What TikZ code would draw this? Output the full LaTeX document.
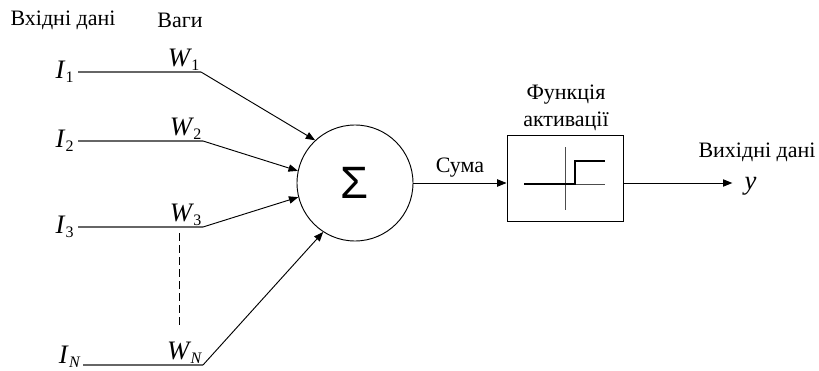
\documentclass[tikz,border=0pt]{standalone}
\usepackage{fontspec}
\setmainfont{Liberation Serif}
\newfontfamily\sigmafont{Liberation Sans}
\usetikzlibrary{positioning, arrows.meta, calc}
\tikzset{
  wire/.style={-{Triangle[length=7pt,width=5.5pt]}, line width=0.7pt},
  inwire/.style={line width=0.9pt, black!60},
  txt/.style={font=\fontsize{16.5}{20}\selectfont, inner sep=0pt},
  var/.style={inner sep=1pt}
}
\newcommand{\symsub}[2]{{\fontsize{20}{20}\selectfont\itshape #1}\kern1pt\raisebox{-0.65ex}{\fontsize{12}{12}\selectfont #2}}

\begin{document}
\begin{tikzpicture}[x=0.75pt, y=-0.75pt]
    \useasboundingbox (0,0) rectangle (819,371);
    \node[txt] (lblin) at (63,20) {Вхідні дані};
    \node[txt] (lblw)  at (180,20) {Ваги};
    %% inputs and their weights
    \node[var, anchor=east, inner xsep=3pt] (i1) at (78,72)  {\symsub{I}{1}};
    \node[var, anchor=east, inner xsep=3pt] (i2) at (78,141) {\symsub{I}{2}};
    \node[var, anchor=east, inner xsep=3pt] (i3) at (78,227) {\symsub{I}{3}};
    \node[var, anchor=south east, inner sep=0pt] (in) at (80,368) {\symsub{I}{\itshape N}};
    \coordinate (w1) at (201,72);
    \coordinate (w2) at (203,141);
    \coordinate (w3) at (203,227);
    \coordinate (wn) at (203,365);
    \node[var, anchor=south east] (lw1) at (w1) {\symsub{W}{1}};
    \node[var, anchor=south east] (lw2) at (w2) {\symsub{W}{2}};
    \node[var, anchor=south east] (lw3) at (w3) {\symsub{W}{3}};
    \node[var, anchor=south east] (lwn) at (wn) {\symsub{W}{\itshape N}};
    \coordinate (dtop) at (179,233);
    \coordinate (dbot) at (179,328);
    %% summation and activation
    \node[draw, circle, minimum size=87pt, line width=0.7pt] (sum) at (355,183)
         {\sigmafont\fontsize{34}{34}\selectfont Σ};
    \node[draw, minimum width=87pt, minimum height=64pt, line width=0.7pt] (act) at (565,178.5) {};
    \node[txt, align=center, anchor=south] (lblact) at (566,131) {Функція\\активації};
    \node[txt] (lblout) at (757,152) {Вихідні дані};
    \node[anchor=west, inner sep=1pt] (outy) at (743,186) {\fontsize{20}{20}\selectfont\itshape y};
    %% step function inside the box
    \begin{scope}[shift={(act.center)}]
      \draw[line width=0.6pt, black!70] (0,-31.5) -- (0,31.5);
      \draw[line width=0.6pt, black!70] (-41,5.5) -- (40,5.5);
      \draw[line width=1.6pt] (-41,5.5) -- (10,5.5) -- (10,-17.5) -- (40,-17.5);
    \end{scope}
    %% connectors
    \draw[inwire] (i1) -- (w1);
    \draw[inwire] (i2) -- (w2);
    \draw[inwire] (i3) -- (w3);
    \draw[inwire] (in.east |- wn) ++(3,0) -- (wn);
    \draw[wire] (w1) -- (sum.133);
    \draw[wire] (w2) -- (sum.168);
    \draw[wire] (w3) -- (sum.194);
    \draw[wire] (wn) -- (sum.237);
    \draw[dashed, dash pattern=on 6pt off 3pt, line width=0.6pt] (dtop) -- (dbot);
    \draw[wire] (sum.east) -- node[txt, above=4pt] (lblsum) {Сума} (sum.east -| act.west);
    \draw[wire, shorten >=8pt] (sum.east -| act.east) -- (sum.east -| outy.west);
\end{tikzpicture}
\end{document}
